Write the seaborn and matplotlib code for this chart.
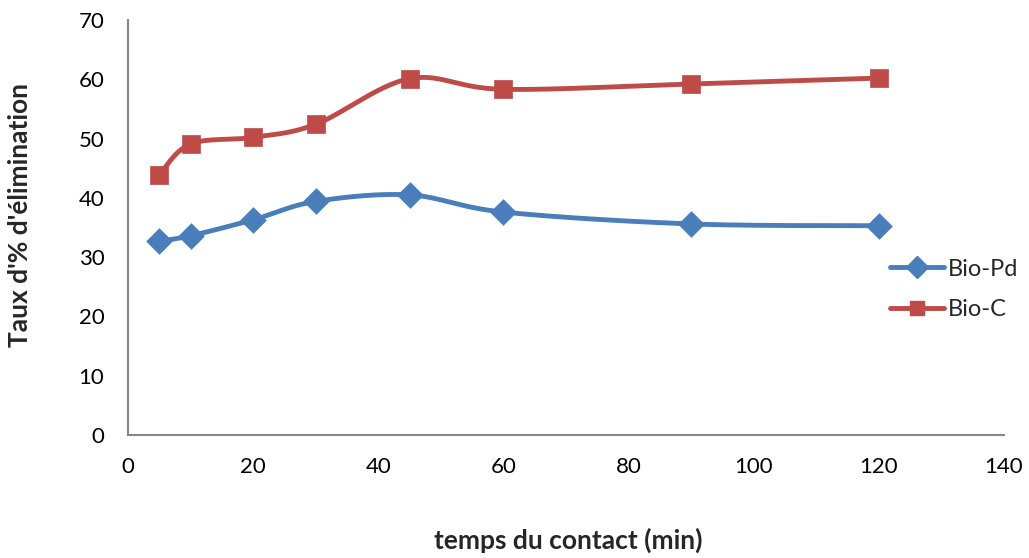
import numpy as np
import pandas as pd
import matplotlib
matplotlib.use("Agg")
import matplotlib.pyplot as plt
import seaborn as sns
from matplotlib.lines import Line2D

time_min = [5, 10, 20, 30, 45, 60, 90, 120]
bio_pd = [32.7, 33.6, 36.3, 39.4, 40.5, 37.6, 35.6, 35.3]
bio_c = [43.9, 49.1, 50.2, 52.4, 60.1, 58.3, 59.2, 60.2]
series_names = ["Bio-Pd", "Bio-C"]
colors = {"Bio-Pd": "#4a7ebb", "Bio-C": "#be4b48"}
markers = {"Bio-Pd": "D", "Bio-C": "s"}

sns.set_theme(style="white")
plt.rcParams['font.family'] = ['Lato', 'DejaVu Sans']


def smooth(x, y, n=30):
    # Excel-like smoothed line (cardinal Bezier segments)
    x = np.asarray(x, float); y = np.asarray(y, float)
    px = np.concatenate([[x[0]], x, [x[-1]]])
    py = np.concatenate([[y[0]], y, [y[-1]]])
    t = np.linspace(0, 1, n)
    xs, ys = [], []
    k = 1 / 6
    for i in range(1, len(px) - 2):
        p0 = np.array([px[i], py[i]]); p3 = np.array([px[i + 1], py[i + 1]])
        c1 = p0 + k * (np.array([px[i + 1], py[i + 1]]) - np.array([px[i - 1], py[i - 1]]))
        c2 = p3 - k * (np.array([px[i + 2], py[i + 2]]) - np.array([px[i], py[i]]))
        b = ((1 - t) ** 3)[:, None] * p0 + (3 * (1 - t) ** 2 * t)[:, None] * c1 + \
            (3 * (1 - t) * t ** 2)[:, None] * c2 + (t ** 3)[:, None] * p3
        xs.extend(b[:, 0]); ys.extend(b[:, 1])
    return np.array(xs), np.array(ys)


fig = plt.figure(figsize=(10.29, 5.58), dpi=100)
ax = fig.add_axes([0.1244, 0.2204, 0.8513, 0.7438])

handles = []
for name, vals in zip(series_names, [bio_pd, bio_c]):
    sx, sy = smooth(time_min, vals)
    sdf = pd.DataFrame({"x": sx, "y": sy})
    sns.lineplot(data=sdf, x="x", y="y", sort=False, ax=ax, color=colors[name],
                 linewidth=3.5, estimator=None, zorder=2)
    df = pd.DataFrame({"x": time_min, "y": vals})
    sns.scatterplot(data=df, x="x", y="y", ax=ax, color=colors[name],
                    marker=markers[name], s=150 if name == "Bio-C" else 170,
                    edgecolor=colors[name], linewidth=0.5, zorder=3)
    handles.append(Line2D([0], [0], color=colors[name], lw=3.5, marker=markers[name],
                          markersize=10 if name == "Bio-C" else 11, label=name))

ax.set_xlim(0, 140)
ax.set_ylim(0, 70)
ax.set_xticks(range(0, 141, 20))
ax.set_yticks(range(0, 71, 10))
ax.tick_params(axis='both', direction='in', length=6, width=1, color='#868686',
               labelsize=16, labelcolor='black')
ax.tick_params(axis='x', pad=16)
ax.tick_params(axis='y', pad=17)
for s in ['top', 'right']:
    ax.spines[s].set_visible(False)
for s in ['left', 'bottom']:
    ax.spines[s].set_color('#868686')
    ax.spines[s].set_linewidth(1.5)

ax.set_xlabel("temps du contact (min)", fontsize=19, fontweight='bold', va='top')
ax.set_ylabel("Taux d'% d'élimination", fontsize=19, fontweight='bold')
ax.xaxis.set_label_coords(0.502, -0.224)
ax.yaxis.set_label_coords(-0.110, 0.53)

leg = ax.legend(handles=handles, loc='center left', bbox_to_anchor=(0.87, 0.351),
                frameon=False, fontsize=17, handlelength=2.3, labelspacing=0.82,
                handletextpad=0.15, borderaxespad=0, borderpad=0)

fig.savefig("out.png", dpi=100)
